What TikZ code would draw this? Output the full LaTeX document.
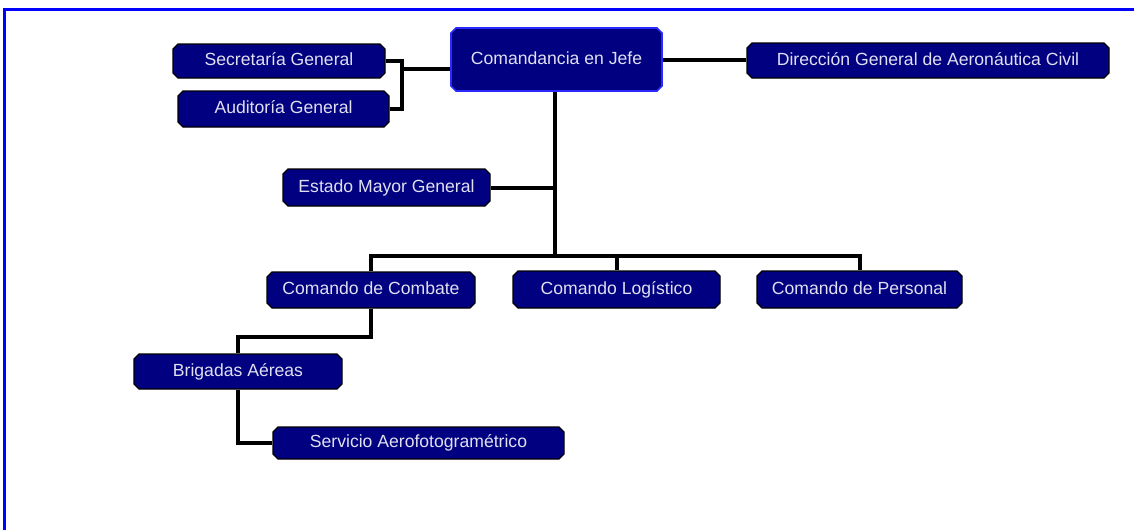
\documentclass[tikz,border=0pt]{standalone}
\usepackage{fontspec}
\setmainfont{Liberation Sans}
\usetikzlibrary{shapes.misc}
\definecolor{navy}{HTML}{000080}
\definecolor{frameblue}{HTML}{0000FF}
\definecolor{edgeblue}{HTML}{2A2AFF}
\definecolor{txt}{HTML}{E0E0F0}
\tikzset{
  box/.style={chamfered rectangle, chamfered rectangle xsep=2.5pt, chamfered rectangle ysep=2.5pt,
    draw=black, line width=1.2pt, fill=navy, text=txt, inner sep=0pt,
    text height=12.5pt, text depth=3.5pt,
    font=\fontsize{17.6}{20}\selectfont},
  topbox/.style={box, draw=edgeblue, line width=1.6pt},
  link/.style={draw=black, line width=4pt, line join=miter},
  frame/.style={draw=frameblue, line width=3.5pt, line join=miter}
}
\begin{document}
\begin{tikzpicture}[x=1pt,y=1pt]
\useasboundingbox (0,0) rectangle (1134,-530);
\draw[frame] (4.5,-530) -- (4.5,-9.5) -- (1134,-9.5);

\node[box, minimum width=212pt, minimum height=34pt] (sec) at (279,-61) {Secretaría General};
\node[box, minimum width=211pt, minimum height=36pt] (aud) at (283.5,-109) {Auditoría General};
\node[topbox, minimum width=211pt, minimum height=63pt] (jefe) at (556.5,-59.5) {Comandancia en Jefe};
\node[box, minimum width=362pt, minimum height=35pt] (dir) at (928,-60.5) {Dirección General de Aeronáutica Civil};
\node[box, minimum width=207pt, minimum height=37pt] (emg) at (386.5,-187.5) {Estado Mayor General};
\node[box, minimum width=208pt, minimum height=36pt] (cc) at (371,-290) {Comando de Combate};
\node[box, minimum width=207pt, minimum height=37pt] (cl) at (616.5,-289.5) {Comando Logístico};
\node[box, minimum width=205pt, minimum height=37pt] (cp) at (859.5,-289.5) {Comando de Personal};
\node[box, minimum width=208pt, minimum height=35pt] (ba) at (238,-371.5) {Brigadas Aéreas};
\node[box, minimum width=291pt, minimum height=32pt] (sa) at (418.5,-443) {Servicio Aerofotogramétrico};

\coordinate (jb) at (402,-69);
\coordinate (bus) at (555,-256);
\coordinate (k) at (0,-337);

\draw[link] (sec.east) -| (jb) |- (aud.east);
\draw[link] (jb) -- (jb -| jefe.west);
\draw[link] (jefe.east) -- (jefe.east -| dir.west);
\draw[link] (jefe.south -| bus) -- (bus);
\draw[link] (emg.east) -- (emg.east -| bus);
\draw[link] (cc.north) |- (cp.north |- bus) -- (cp.north);
\draw[link] (cl.north) -- (cl.north |- bus);
\draw[link] (cc.south) -- (cc.south |- k) -| (ba.north);
\draw[link] (ba.south) |- (sa.west);
\end{tikzpicture}
\end{document}
